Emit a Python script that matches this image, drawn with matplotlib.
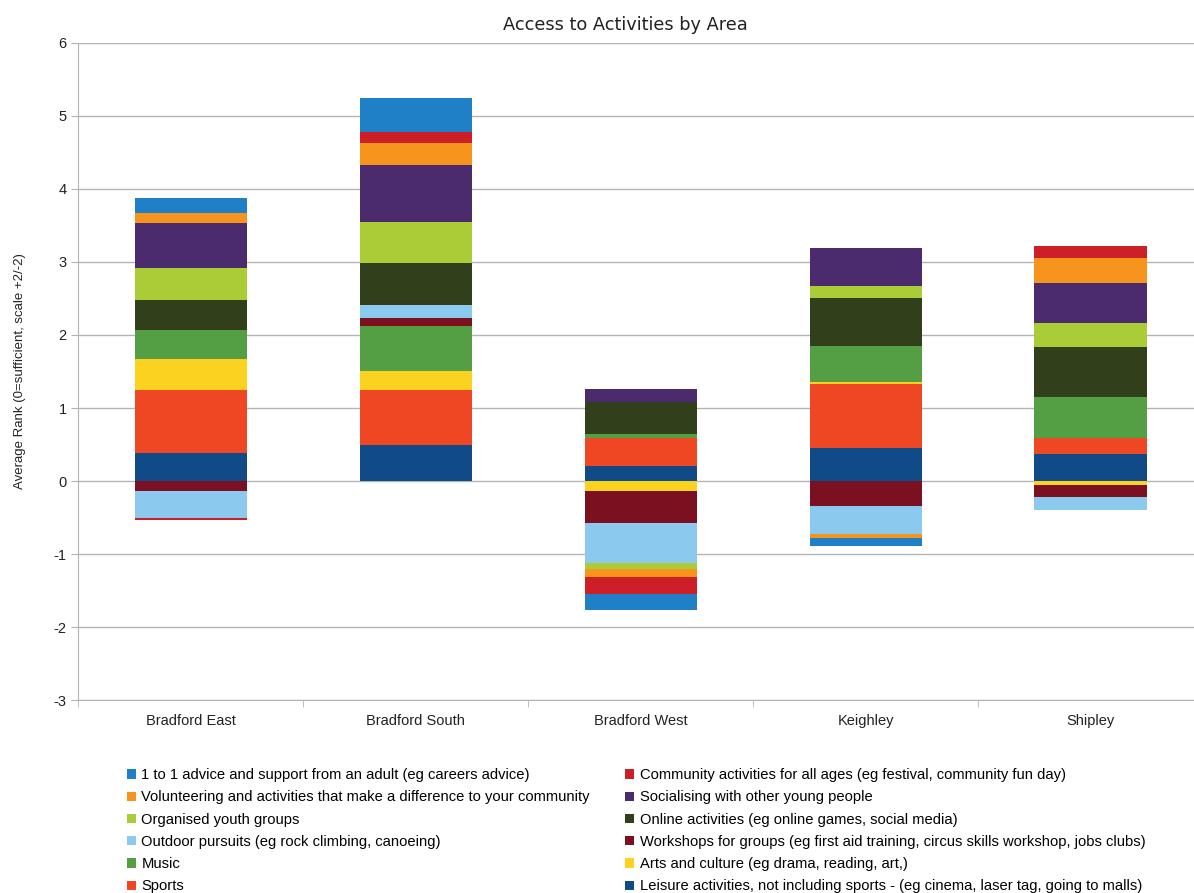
import numpy as np
import matplotlib.pyplot as plt
from matplotlib.patches import Patch

areas = ["Bradford East", "Bradford South", "Bradford West", "Keighley", "Shipley"]

# series in stacking order (bottom first)
series = [
    "Leisure activities, not including sports - (eg cinema, laser tag, going to malls)",
    "Sports",
    "Arts and culture (eg drama, reading, art,)",
    "Music",
    "Workshops for groups (eg first aid training, circus skills workshop, jobs clubs)",
    "Outdoor pursuits (eg rock climbing, canoeing)",
    "Online activities (eg online games, social media)",
    "Organised youth groups",
    "Socialising with other young people",
    "Volunteering and activities that make a difference to your community",
    "Community activities for all ages (eg festival, community fun day)",
    "1 to 1 advice and support from an adult (eg careers advice)",
]
colors = ["#104a87", "#ef4723", "#fbd21f", "#549f43", "#7b1120", "#8cc9ee",
          "#323f1b", "#a9cc37", "#4b2a6e", "#f7941d", "#cc1f27", "#1f80c8"]

leisure      = [0.39, 0.49, 0.21, 0.45, 0.37]
sports       = [0.86, 0.76, 0.375, 0.875, 0.22]
arts         = [0.42, 0.25, -0.14, 0.035, -0.06]
music        = [0.40, 0.62, 0.055, 0.49, 0.555]
workshops    = [-0.14, 0.11, -0.44, -0.34, -0.155]
outdoor      = [-0.36, 0.18, -0.54, -0.38, -0.185]
online       = [0.41, 0.58, 0.445, 0.66, 0.69]
organised    = [0.44, 0.56, -0.09, 0.16, 0.33]
socialising  = [0.62, 0.78, 0.18, 0.52, 0.55]
volunteering = [0.13, 0.30, -0.10, -0.06, 0.34]
community    = [-0.03, 0.155, -0.24, 0.0, 0.17]
one_to_one   = [0.20, 0.455, -0.22, -0.11, 0.0]

values = [leisure, sports, arts, music, workshops, outdoor, online,
          organised, socialising, volunteering, community, one_to_one]

plt.rcParams['font.family'] = ['Liberation Sans', 'DejaVu Sans']
plt.rcParams['axes.unicode_minus'] = False

fig = plt.figure(figsize=(11.94, 8.93), dpi=100)
ax = fig.add_axes([0.0657, 0.216, 0.942, 0.736])

x = np.arange(len(areas))
pos = np.zeros(len(areas))
neg = np.zeros(len(areas))
for vals, col in zip(values, colors):
    v = np.array(vals)
    bottom = np.where(v >= 0, pos, neg)
    ax.bar(x, v, width=0.5, bottom=bottom, color=col, linewidth=0, zorder=3)
    pos += np.where(v >= 0, v, 0)
    neg += np.where(v < 0, v, 0)

ax.set_xlim(-0.5, 4.5)
ax.set_ylim(-3, 6)
ax.set_yticks(range(-3, 7))
ax.set_xticks(x)
ax.set_xticklabels(areas)
ax.set_xticks(np.arange(-0.5, 5, 1), minor=True)
ax.tick_params(axis='x', which='major', length=0, pad=10, labelsize=10.5, colors='#222222')
ax.tick_params(axis='x', which='minor', length=5, color='#b3b3b3')
ax.tick_params(axis='y', length=5, color='#b3b3b3', labelsize=10.5, labelcolor='#222222')
ax.grid(axis='y', color='#b3b3b3', linewidth=1, zorder=0)
for s in ['top', 'right']:
    ax.spines[s].set_visible(False)
for s in ['left', 'bottom']:
    ax.spines[s].set_color('#b3b3b3')

fig.text(625 / 1194, 1 - 25 / 893, "Access to Activities by Area", fontsize=12.8,
         color='#222222', family=['DejaVu Sans'], ha='center', va='center')
ax.set_ylabel("Average Rank (0=sufficient, scale +2/-2)", fontsize=9.5, color='#222222',
              labelpad=20)

# legend: two columns, read across rows
order = [11, 9, 7, 5, 3, 1, 10, 8, 6, 4, 2, 0]
handles = [Patch(facecolor=colors[i], edgecolor='none') for i in order]
labels = [series[i] for i in order]
fig.legend(handles, labels, ncol=2, loc='upper left', bbox_to_anchor=(0.1, 0.148),
           frameon=False, fontsize=10.6, handlelength=0.6, handleheight=0.6,
           handletextpad=0.4, labelspacing=0.56, columnspacing=2.4, borderpad=0)

fig.savefig("out.png", dpi=100)
